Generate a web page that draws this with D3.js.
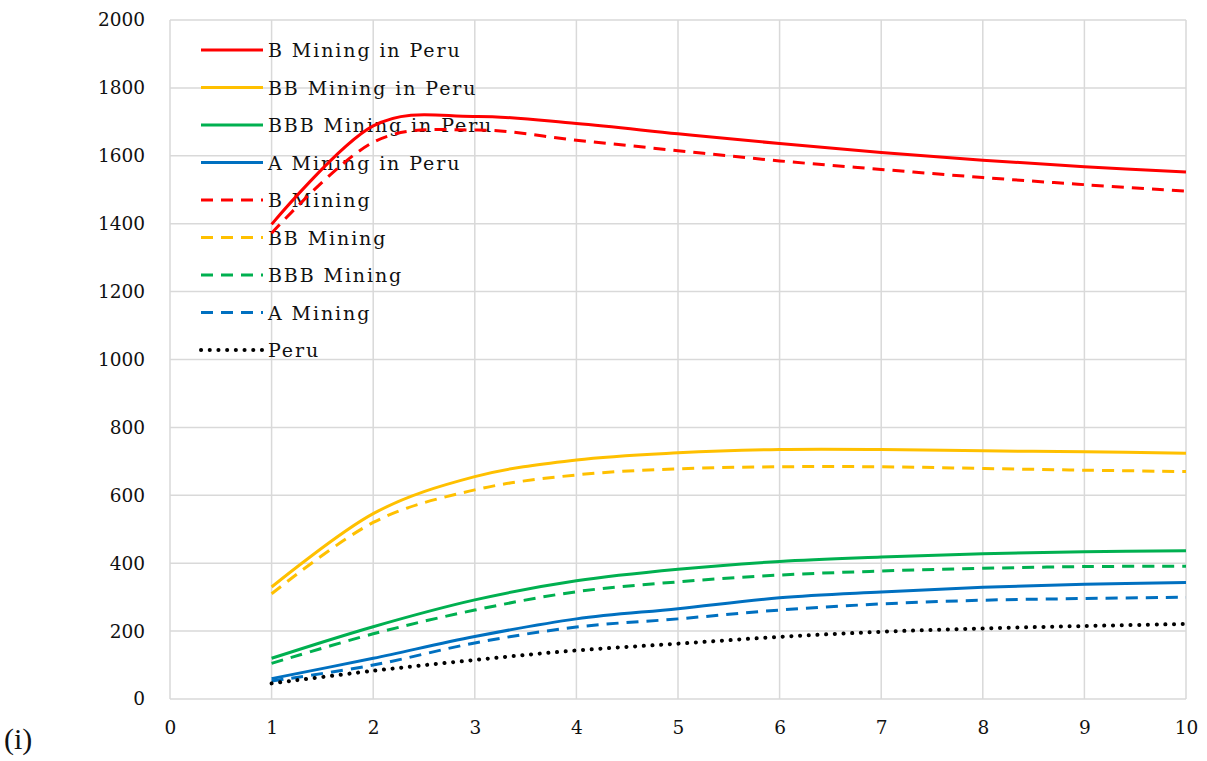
<!DOCTYPE html>
<html><head><meta charset="utf-8">
<script src="https://cdn.jsdelivr.net/npm/d3@7/dist/d3.min.js"></script>
<style>
body{margin:0;background:#fff;}
svg{display:block;}
text{font-family:"DejaVu Serif",serif;fill:#111;}
</style></head>
<body>
<svg id="chart" width="1207" height="761"></svg>
<script>
const xValues = [1,2,3,4,5,6,7,8,9,10];
const seriesNames = ["B Mining in Peru","BB Mining in Peru","BBB Mining in Peru","A Mining in Peru","B Mining","BB Mining","BBB Mining","A Mining","Peru"];
const bMiningPeru   = [1398,1688,1716,1695,1665,1636,1610,1587,1568,1552];
const bbMiningPeru  = [330,546,655,704,725,735,735,731,728,724];
const bbbMiningPeru = [120,213,292,348,382,405,418,428,434,437];
const aMiningPeru   = [60,120,184,236,266,298,315,329,338,343];
const bMining       = [1372,1640,1676,1646,1615,1585,1560,1536,1515,1496];
const bbMining      = [310,520,616,660,678,684,684,679,674,670];
const bbbMining     = [105,192,262,316,345,365,377,385,390,391];
const aMining       = [53,100,165,212,236,262,280,291,296,300];
const peru          = [46,83,115,143,163,183,198,208,215,221];
const yTicks = [0,200,400,600,800,1000,1200,1400,1600,1800,2000];
const xTicks = [0,1,2,3,4,5,6,7,8,9,10];
const panelLabel = "(i)";

const colors = ["#FF0000","#FFC000","#00B050","#0070C0","#FF0000","#FFC000","#00B050","#0070C0","#000000"];
const styles = ["solid","solid","solid","solid","dash","dash","dash","dash","dot"];
const values = [bMiningPeru,bbMiningPeru,bbbMiningPeru,aMiningPeru,bMining,bbMining,bbbMining,aMining,peru];

const svg = d3.select("#chart");
const L=170,R=1186,T=20,B=699;
const x = d3.scaleLinear().domain([0,10]).range([L,R]);
const y = d3.scaleLinear().domain([0,2000]).range([B,T]);

// grid
const g = svg.append("g");
g.selectAll("line.h").data(yTicks).join("line")
  .attr("x1",L).attr("x2",R).attr("y1",d=>y(d)).attr("y2",d=>y(d))
  .attr("stroke","#d9d9d9").attr("stroke-width",1.5);
g.selectAll("line.v").data(xTicks).join("line")
  .attr("y1",T).attr("y2",B).attr("x1",d=>x(d)).attr("x2",d=>x(d))
  .attr("stroke","#d9d9d9").attr("stroke-width",1.5);

// axes (labels only)
const yAxis = d3.axisLeft(y).tickValues(yTicks).tickFormat(d3.format("d")).tickSize(0).tickPadding(25);
const ya = svg.append("g").attr("transform",`translate(${L},0)`).call(yAxis);
ya.select(".domain").remove();
ya.attr("font-family",null).attr("font-size",null);
ya.selectAll("text").style("font-family","'DejaVu Serif', serif").style("font-size","18.5px").style("fill","#111");

const xAxis = d3.axisBottom(x).tickValues(xTicks).tickFormat(d3.format("d")).tickSize(0).tickPadding(22);
const xa = svg.append("g").attr("transform",`translate(0,${B})`).call(xAxis);
xa.select(".domain").remove();
xa.attr("font-family",null).attr("font-size",null);
xa.selectAll("text").style("font-family","'DejaVu Serif', serif").style("font-size","18.5px").style("fill","#111");

function dash(s){ return s==="dash" ? "12 8" : s==="dot" ? "0.1 8.6" : null; }

const line = d3.line().x((d,i)=>x(xValues[i])).y(d=>y(d)).curve(d3.curveCatmullRom.alpha(0));

// legend
const leg = svg.append("g");
seriesNames.forEach((name,i)=>{
  const yy = 50 + i*37.5;
  leg.append("line").attr("x1",201).attr("x2",263).attr("y1",yy).attr("y2",yy)
    .attr("stroke",colors[i]).attr("stroke-width", styles[i]==="dot"?4:3)
    .attr("stroke-dasharray",dash(styles[i]))
    .attr("stroke-linecap", styles[i]==="dot"?"round":"butt");
  leg.append("text").attr("x",268).attr("y",yy+7).text(name)
    .style("font-size","19px").style("letter-spacing","1.9px");
});

// lines
values.forEach((vals,i)=>{
  svg.append("path").datum(vals).attr("d",line)
    .attr("fill","none").attr("stroke",colors[i])
    .attr("stroke-width", styles[i]==="dot"?4:3)
    .attr("stroke-dasharray",dash(styles[i]))
    .attr("stroke-linecap", styles[i]==="dot"?"round":"butt");
});

svg.append("text").attr("x",4).attr("y",749).text(panelLabel)
  .style("font-family","'Liberation Serif', serif").style("font-size","30px").style("fill","#111");
</script>
</body></html>
